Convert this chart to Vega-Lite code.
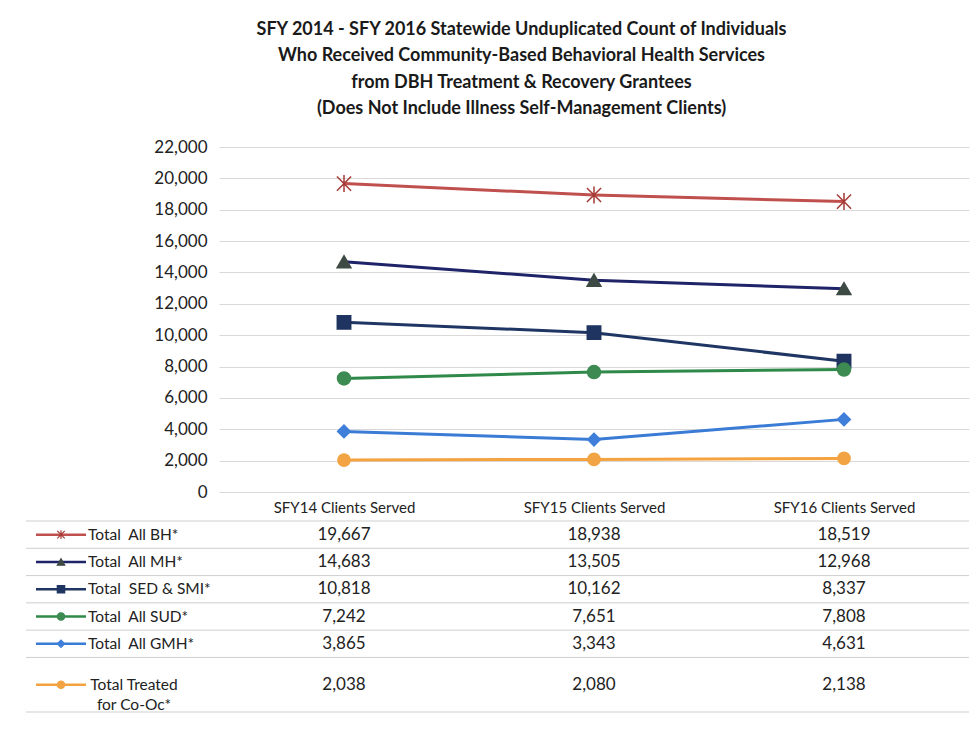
{
  "$schema": "https://vega.github.io/schema/vega-lite/v6.json",
  "background": "white",
  "padding": {"left": 25, "top": 20, "right": 5, "bottom": 5},
  "title": {
    "text": ["SFY 2014 - SFY 2016 Statewide Unduplicated Count of Individuals", "Who Received Community-Based Behavioral Health Services", "from DBH Treatment & Recovery Grantees", "(Does Not Include Illness Self-Management Clients)"],
    "font": "Lato", "fontSize": 18, "fontWeight": "bold", "color": "#1a1a1a",
    "lineHeight": 26.5, "anchor": "middle", "offset": 20, "dx": 24
  },
  "datasets": {
    "counts": [
      {"series": "Total\u00a0 All BH*", "year": "SFY14 Clients Served", "value": 19667},
      {"series": "Total\u00a0 All BH*", "year": "SFY15 Clients Served", "value": 18938},
      {"series": "Total\u00a0 All BH*", "year": "SFY16 Clients Served", "value": 18519},
      {"series": "Total\u00a0 All MH*", "year": "SFY14 Clients Served", "value": 14683},
      {"series": "Total\u00a0 All MH*", "year": "SFY15 Clients Served", "value": 13505},
      {"series": "Total\u00a0 All MH*", "year": "SFY16 Clients Served", "value": 12968},
      {"series": "Total\u00a0 SED & SMI*", "year": "SFY14 Clients Served", "value": 10818},
      {"series": "Total\u00a0 SED & SMI*", "year": "SFY15 Clients Served", "value": 10162},
      {"series": "Total\u00a0 SED & SMI*", "year": "SFY16 Clients Served", "value": 8337},
      {"series": "Total\u00a0 All SUD*", "year": "SFY14 Clients Served", "value": 7242},
      {"series": "Total\u00a0 All SUD*", "year": "SFY15 Clients Served", "value": 7651},
      {"series": "Total\u00a0 All SUD*", "year": "SFY16 Clients Served", "value": 7808},
      {"series": "Total\u00a0 All GMH*", "year": "SFY14 Clients Served", "value": 3865},
      {"series": "Total\u00a0 All GMH*", "year": "SFY15 Clients Served", "value": 3343},
      {"series": "Total\u00a0 All GMH*", "year": "SFY16 Clients Served", "value": 4631},
      {"series": "Total Treated\nfor Co-Oc*", "year": "SFY14 Clients Served", "value": 2038},
      {"series": "Total Treated\nfor Co-Oc*", "year": "SFY15 Clients Served", "value": 2080},
      {"series": "Total Treated\nfor Co-Oc*", "year": "SFY16 Clients Served", "value": 2138}
    ]
  },
  "data": {"name": "counts"},
  "columns": 2,
  "bounds": "flush",
  "spacing": {"row": 29, "column": 0},
  "concat": [
    {
      "width": 193,
      "height": 345,
      "data": {"values": []},
      "mark": {"type": "point"},
      "encoding": {}
    },
    {
      "width": 750,
      "height": 345,
      "encoding": {
        "x": {"field": "year", "type": "nominal", "sort": null,
          "scale": {"type": "point", "padding": 0.5, "domain": ["SFY14 Clients Served", "SFY15 Clients Served", "SFY16 Clients Served"]},
          "axis": {"title": null, "domain": false, "ticks": false, "grid": false, "labelAngle": 0, "labelPadding": 8, "labelFont": "Lato", "labelFontSize": 15, "labelColor": "#222"}},
        "y": {"field": "value", "type": "quantitative",
          "scale": {"domain": [0, 22000], "nice": false},
          "axis": {"title": null, "values": [0, 2000, 4000, 6000, 8000, 10000, 12000, 14000, 16000, 18000, 20000, 22000], "format": ",.0f", "domain": false, "ticks": false, "grid": true, "gridColor": "#d9d9d9", "gridWidth": 1, "labelPadding": 12, "labelFont": "Lato", "labelFontSize": 17, "labelColor": "#222"}}
      },
      "layer": [
        {
          "mark": {"type": "line", "strokeWidth": 3},
          "encoding": {
            "color": {"field": "series", "type": "nominal", "legend": null,
              "scale": {"domain": ["Total\u00a0 All BH*", "Total\u00a0 All MH*", "Total\u00a0 SED & SMI*", "Total\u00a0 All SUD*", "Total\u00a0 All GMH*", "Total Treated\nfor Co-Oc*"],
                "range": ["#c0504d", "#1f2468", "#1f3563", "#2f8a4a", "#3a7bd5", "#f4a33f"]}}
          }
        },
        {
          "mark": {"type": "point", "filled": true, "opacity": 1, "strokeWidth": 1.5},
          "encoding": {
            "shape": {"field": "series", "type": "nominal", "legend": null,
              "scale": {"domain": ["Total\u00a0 All BH*", "Total\u00a0 All MH*", "Total\u00a0 SED & SMI*", "Total\u00a0 All SUD*", "Total\u00a0 All GMH*", "Total Treated\nfor Co-Oc*"],
                "range": ["M-1,-1L1,1M-1,1L1,-1M0,-1.2L0,1.2", "triangle-up", "square", "circle", "diamond", "circle"]}},
            "fill": {"field": "series", "type": "nominal", "legend": null,
              "scale": {"domain": ["Total\u00a0 All BH*", "Total\u00a0 All MH*", "Total\u00a0 SED & SMI*", "Total\u00a0 All SUD*", "Total\u00a0 All GMH*", "Total Treated\nfor Co-Oc*"],
                "range": ["#a33a35", "#3e4a44", "#1f3460", "#3d8b52", "#3f7fd9", "#f2a444"]}},
            "stroke": {"field": "series", "type": "nominal", "legend": null,
              "scale": {"domain": ["Total\u00a0 All BH*", "Total\u00a0 All MH*", "Total\u00a0 SED & SMI*", "Total\u00a0 All SUD*", "Total\u00a0 All GMH*", "Total Treated\nfor Co-Oc*"],
                "range": ["#a33a35", "#3e4a44", "#1f3460", "#3d8b52", "#3f7fd9", "#f2a444"]}},
            "size": {"field": "series", "type": "ordinal", "legend": null,
              "scale": {"domain": ["Total\u00a0 All BH*", "Total\u00a0 All MH*", "Total\u00a0 SED & SMI*", "Total\u00a0 All SUD*", "Total\u00a0 All GMH*", "Total Treated\nfor Co-Oc*"],
                "range": [200, 150, 100, 110, 150, 130]}}
          }
        }
      ]
    },
    {
      "width": 193,
      "height": 191,
      "transform": [{"filter": "datum.year === 'SFY14 Clients Served'"}],
      "layer": [
        {
          "mark": {"type": "rule", "color": "#cfcfcf", "strokeWidth": 1},
          "encoding": {"y": {"field": "series", "type": "nominal", "bandPosition": 1, "axis": null,
            "scale": {"type": "band", "paddingInner": 0, "paddingOuter": 0, "domain": ["Total\u00a0 All BH*", "Total\u00a0 All MH*", "Total\u00a0 SED & SMI*", "Total\u00a0 All SUD*", "Total\u00a0 All GMH*", " ", "Total Treated\nfor Co-Oc*"]}}}
        },
        {
          "transform": [{"filter": "datum.series === 'Total\u00a0 All BH*'"}],
          "mark": {"type": "rule", "color": "#cfcfcf", "strokeWidth": 1},
          "encoding": {"y": {"field": "series", "type": "nominal", "bandPosition": 0, "axis": null}}
        },
        {
          "transform": [{"filter": "datum.series !== 'Total Treated\\nfor Co-Oc*'"}],
          "mark": {"type": "rule", "strokeWidth": 2.5},
          "encoding": {
            "y": {"field": "series", "type": "nominal", "bandPosition": 0.5, "axis": null},
            "x": {"datum": 10, "type": "quantitative", "axis": null, "scale": {"domain": [0, 193], "nice": false, "zero": false}},
            "x2": {"datum": 60},
            "color": {"field": "series", "type": "nominal", "legend": null,
              "scale": {"domain": ["Total\u00a0 All BH*", "Total\u00a0 All MH*", "Total\u00a0 SED & SMI*", "Total\u00a0 All SUD*", "Total\u00a0 All GMH*", "Total Treated\nfor Co-Oc*"],
                "range": ["#c0504d", "#1f2468", "#1f3563", "#2f8a4a", "#3a7bd5", "#f4a33f"]}}
          }
        },
        {
          "transform": [{"filter": "datum.series === 'Total Treated\\nfor Co-Oc*'"}],
          "mark": {"type": "rule", "strokeWidth": 2.5},
          "encoding": {
            "y": {"field": "series", "type": "nominal", "bandPosition": 0, "axis": null},
            "x": {"datum": 10, "type": "quantitative", "axis": null},
            "x2": {"datum": 60},
            "color": {"field": "series", "type": "nominal", "legend": null}
          }
        },
        {
          "transform": [{"filter": "datum.series !== 'Total Treated\\nfor Co-Oc*'"}],
          "mark": {"type": "point", "filled": true, "opacity": 1, "strokeWidth": 1.2, "size": 55},
          "encoding": {
            "y": {"field": "series", "type": "nominal", "bandPosition": 0.5, "axis": null},
            "x": {"datum": 35, "type": "quantitative", "axis": null},
            "shape": {"field": "series", "type": "nominal", "legend": null,
              "scale": {"domain": ["Total\u00a0 All BH*", "Total\u00a0 All MH*", "Total\u00a0 SED & SMI*", "Total\u00a0 All SUD*", "Total\u00a0 All GMH*", "Total Treated\nfor Co-Oc*"],
                "range": ["M-1,-1L1,1M-1,1L1,-1M0,-1.2L0,1.2", "triangle-up", "square", "circle", "diamond", "circle"]}},
            "fill": {"field": "series", "type": "nominal", "legend": null,
              "scale": {"domain": ["Total\u00a0 All BH*", "Total\u00a0 All MH*", "Total\u00a0 SED & SMI*", "Total\u00a0 All SUD*", "Total\u00a0 All GMH*", "Total Treated\nfor Co-Oc*"],
                "range": ["#a33a35", "#3e4a44", "#1f3460", "#3d8b52", "#3f7fd9", "#d9a060"]}},
            "stroke": {"field": "series", "type": "nominal", "legend": null,
              "scale": {"domain": ["Total\u00a0 All BH*", "Total\u00a0 All MH*", "Total\u00a0 SED & SMI*", "Total\u00a0 All SUD*", "Total\u00a0 All GMH*", "Total Treated\nfor Co-Oc*"],
                "range": ["#a33a35", "#3e4a44", "#1f3460", "#3d8b52", "#3f7fd9", "#d9a060"]}}
          }
        },
        {
          "transform": [{"filter": "datum.series === 'Total Treated\\nfor Co-Oc*'"}],
          "mark": {"type": "point", "filled": true, "opacity": 1, "strokeWidth": 1.2, "size": 55},
          "encoding": {
            "y": {"field": "series", "type": "nominal", "bandPosition": 0, "axis": null},
            "x": {"datum": 35, "type": "quantitative", "axis": null},
            "shape": {"field": "series", "type": "nominal", "legend": null},
            "fill": {"field": "series", "type": "nominal", "legend": null},
            "stroke": {"field": "series", "type": "nominal", "legend": null}
          }
        },
        {
          "transform": [{"filter": "datum.series !== 'Total Treated\\nfor Co-Oc*'"}],
          "mark": {"type": "text", "align": "left", "baseline": "middle", "font": "Lato", "fontSize": 15.5, "color": "#222"},
          "encoding": {
            "y": {"field": "series", "type": "nominal", "bandPosition": 0.5, "axis": null},
            "x": {"datum": 62, "type": "quantitative", "axis": null},
            "text": {"field": "series"}
          }
        },
        {
          "transform": [{"filter": "datum.series === 'Total Treated\\nfor Co-Oc*'"}],
          "mark": {"type": "text", "align": "center", "baseline": "middle", "font": "Lato", "fontSize": 15.5, "color": "#222", "lineBreak": "\n", "lineHeight": 20},
          "encoding": {
            "y": {"field": "series", "type": "nominal", "bandPosition": 0, "axis": null},
            "x": {"datum": 108, "type": "quantitative", "axis": null},
            "text": {"field": "series"}
          }
        }
      ]
    },
    {
      "width": 750,
      "height": 191,
      "encoding": {
        "x": {"field": "year", "type": "nominal", "sort": null, "axis": null,
          "scale": {"type": "point", "padding": 0.5, "domain": ["SFY14 Clients Served", "SFY15 Clients Served", "SFY16 Clients Served"]}}
      },
      "layer": [
        {
          "transform": [{"filter": "datum.year === 'SFY14 Clients Served'"}],
          "mark": {"type": "rule", "color": "#cfcfcf", "strokeWidth": 1},
          "encoding": {"x": null, "y": {"field": "series", "type": "nominal", "bandPosition": 1, "axis": null,
            "scale": {"type": "band", "paddingInner": 0, "paddingOuter": 0, "domain": ["Total\u00a0 All BH*", "Total\u00a0 All MH*", "Total\u00a0 SED & SMI*", "Total\u00a0 All SUD*", "Total\u00a0 All GMH*", " ", "Total Treated\nfor Co-Oc*"]}}}
        },
        {
          "transform": [{"filter": "datum.year === 'SFY14 Clients Served' && datum.series === 'Total\u00a0 All BH*'"}],
          "mark": {"type": "rule", "color": "#cfcfcf", "strokeWidth": 1},
          "encoding": {"x": null, "y": {"field": "series", "type": "nominal", "bandPosition": 0, "axis": null}}
        },
        {
          "transform": [{"filter": "datum.series !== 'Total Treated\\nfor Co-Oc*'"}],
          "mark": {"type": "text", "align": "center", "baseline": "middle", "font": "Lato", "fontSize": 17, "color": "#222"},
          "encoding": {
            "y": {"field": "series", "type": "nominal", "bandPosition": 0.5, "axis": null},
            "text": {"field": "value", "type": "quantitative", "format": ","}
          }
        },
        {
          "transform": [{"filter": "datum.series === 'Total Treated\\nfor Co-Oc*'"}],
          "mark": {"type": "text", "align": "center", "baseline": "middle", "font": "Lato", "fontSize": 17, "color": "#222"},
          "encoding": {
            "y": {"field": "series", "type": "nominal", "bandPosition": 0, "axis": null},
            "text": {"field": "value", "type": "quantitative", "format": ","}
          }
        }
      ]
    }
  ],
  "config": {"view": {"stroke": null}, "font": "Lato"}
}
